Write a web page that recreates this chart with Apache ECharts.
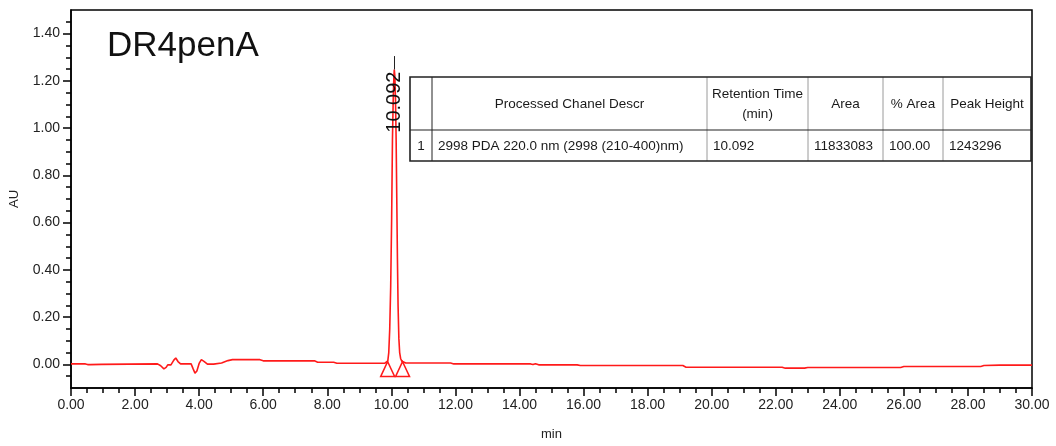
<!DOCTYPE html>
<html>
<head>
<meta charset="utf-8">
<title>DR4penA</title>
<script src="https://cdn.jsdelivr.net/npm/echarts@6/dist/echarts.min.js"></script>
<style>
  html, body { margin: 0; padding: 0; background: #fff; }
  #chart { width: 1056px; height: 446px; }
</style>
</head>
<body>
<div id="chart"></div>
<script>
// Chromatogram trace: [retention time (min), absorbance (AU)]
const trace = [
  [0.00, 0.002], [0.45, 0.002], [0.52, -0.001], [0.60, -0.001], [0.66, 0.000],
  [0.95, 0.000], [1.00, 0.002], [2.70, 0.002], [2.80, -0.006], [2.90, -0.019],
  [2.97, -0.013], [3.02, -0.002], [3.12, -0.002], [3.21, 0.018], [3.27, 0.027],
  [3.34, 0.012], [3.42, 0.002], [3.75, 0.002], [3.81, -0.018], [3.87, -0.037],
  [3.93, -0.028], [4.00, 0.004], [4.07, 0.020], [4.15, 0.013], [4.26, 0.001],
  [4.45, 0.001], [4.70, 0.006], [4.90, 0.016], [5.04, 0.020], [5.90, 0.020],
  [6.00, 0.015], [7.60, 0.015], [7.70, 0.009], [8.20, 0.009], [8.30, 0.005],
  [9.80, 0.005], [9.86, 0.007], [9.89, 0.015], [9.92, 0.05], [9.95, 0.15],
  [9.98, 0.33], [10.01, 0.62], [10.035, 0.95], [10.06, 1.13], [10.08, 1.22],
  [10.092, 1.248], [10.11, 1.22], [10.13, 1.12], [10.15, 0.95], [10.17, 0.70],
  [10.19, 0.45], [10.21, 0.25], [10.235, 0.11], [10.26, 0.05], [10.29, 0.025],
  [10.33, 0.013], [10.38, 0.008], [10.45, 0.006], [11.85, 0.006], [11.95, 0.002],
  [14.35, 0.002], [14.42, -0.001], [14.50, 0.003], [14.60, -0.002], [15.80, -0.002],
  [15.90, -0.005], [19.10, -0.005], [19.20, -0.012], [22.20, -0.012], [22.30, -0.016],
  [22.90, -0.016], [23.00, -0.013], [23.28, -0.013], [23.32, -0.010], [23.38, -0.013],
  [25.90, -0.013], [26.00, -0.009], [28.40, -0.009], [28.50, -0.005], [29.00, -0.003],
  [30.00, -0.003]
];

// Integrated peak
const peakTime = 10.092;
const peakApex = 1.248;
const peakStart = [9.885, 0.012];
const peakEnd = [10.35, 0.012];

// Axis ticks
const yTicks = [0.0, 0.2, 0.4, 0.6, 0.8, 1.0, 1.2, 1.4];
const yMinorTicks = [-0.05, 0.05, 0.1, 0.15, 0.25, 0.3, 0.35, 0.45, 0.5, 0.55, 0.65, 0.7, 0.75,
  0.85, 0.9, 0.95, 1.05, 1.1, 1.15, 1.25, 1.3, 1.35, 1.45];

// Peak results table
const tableHeader = ['', 'Processed Chanel Descr', 'Retention Time\n(min)', 'Area', '% Area', 'Peak Height'];
const tableRow = ['1', '2998 PDA 220.0 nm (2998 (210-400)nm)', '10.092', '11833083', '100.00', '1243296'];

const FONT = '"Liberation Sans", Arial, Helvetica, sans-serif';
const RED = '#ff1a1a';
const INK = '#1a1a1a';

// Table layout
const colX = [410, 432, 707, 808, 883, 943, 1031];
const rowY = [77, 130, 161];

function buildTable() {
  const els = [];
  // white backing
  els.push({ type: 'rect', shape: { x: colX[0], y: rowY[0], width: colX[6] - colX[0], height: rowY[2] - rowY[0] },
    style: { fill: '#fff' } });
  // inner column separators
  for (let i = 1; i < colX.length - 1; i++) {
    els.push({ type: 'line', shape: { x1: colX[i], y1: rowY[0], x2: colX[i], y2: rowY[2] },
      style: { stroke: i === 1 ? '#222' : '#9a9a9a', lineWidth: 1 } });
  }
  // header / body separator
  els.push({ type: 'line', shape: { x1: colX[0], y1: rowY[1], x2: colX[6], y2: rowY[1] },
    style: { stroke: '#222', lineWidth: 1.2 } });
  // outer frame
  els.push({ type: 'rect', shape: { x: colX[0], y: rowY[0], width: colX[6] - colX[0], height: rowY[2] - rowY[0] },
    style: { fill: null, stroke: '#222', lineWidth: 1.6 } });
  // header cells
  for (let i = 1; i < tableHeader.length; i++) {
    els.push({ type: 'text', style: {
      x: (colX[i] + colX[i + 1]) / 2, y: (rowY[0] + rowY[1]) / 2 + 1,
      text: tableHeader[i], align: 'center', verticalAlign: 'middle',
      font: '13.5px ' + FONT, fill: INK, lineHeight: 20 } });
  }
  // body cells
  for (let i = 0; i < tableRow.length; i++) {
    const centred = i === 0;
    els.push({ type: 'text', style: {
      x: centred ? (colX[0] + colX[1]) / 2 : colX[i] + 6, y: (rowY[1] + rowY[2]) / 2 + 1,
      text: tableRow[i], align: centred ? 'center' : 'left', verticalAlign: 'middle',
      font: '13.5px ' + FONT, fill: INK } });
  }
  return { type: 'group', z: 100, children: els };
}

const chart = echarts.init(document.getElementById('chart'), null, { renderer: 'canvas' });

const tickStyle = { color: '#000', width: 1.5 };

chart.setOption({
  animation: false,
  backgroundColor: '#fff',
  title: {
    text: 'DR4penA', left: 107, top: 29, padding: 0,
    textStyle: { fontFamily: FONT, fontSize: 35, fontWeight: 'normal', color: '#111' }
  },
  grid: { left: 70, right: 24, top: 10, bottom: 56, show: true, borderColor: '#000', borderWidth: 1.5 },
  xAxis: {
    type: 'value', min: 0, max: 30, interval: 2,
    axisLine: { show: true, onZero: false, lineStyle: { color: '#000', width: 1.5 } },
    axisTick: { show: true, length: 8, lineStyle: tickStyle },
    minorTick: { show: true, splitNumber: 4, length: 5, lineStyle: tickStyle },
    splitLine: { show: false },
    axisLabel: { formatter: v => v.toFixed(2), color: '#222', fontSize: 14, margin: 10, fontFamily: FONT },
    name: 'min', nameLocation: 'middle', nameGap: 40,
    nameTextStyle: { fontFamily: FONT, fontSize: 13, color: '#222' }
  },
  yAxis: [{
    type: 'value', min: -0.1, max: 1.5,
    axisLine: { show: true, onZero: false, lineStyle: { color: '#000', width: 1.5 } },
    axisTick: { show: true, length: 8, lineStyle: tickStyle, customValues: yTicks },
    splitLine: { show: false },
    axisLabel: { customValues: yTicks, formatter: v => v.toFixed(2), color: '#222', fontSize: 14, margin: 11, fontFamily: FONT },
    name: 'AU', nameLocation: 'middle', nameGap: 50,
    nameTextStyle: { fontFamily: FONT, fontSize: 13, color: '#222' }
  }, {
    type: 'value', min: -0.1, max: 1.5, position: 'left',
    axisLine: { show: false, onZero: false },
    axisTick: { show: true, length: 5, lineStyle: tickStyle, customValues: yMinorTicks },
    axisLabel: { show: false },
    splitLine: { show: false }
  }],
  graphic: [buildTable()],
  series: [{
    type: 'line',
    data: trace,
    showSymbol: false,
    symbol: 'none',
    sampling: null,
    lineStyle: { color: RED, width: 1.6 },
    silent: true,
    z: 3,
    markLine: {
      silent: true, symbol: ['none', 'none'],
      label: { show: false },
      lineStyle: { color: '#222', width: 1, type: 'solid' },
      data: [[{ coord: [peakTime, peakApex] }, { coord: [peakTime, 1.305] }]]
    },
    markPoint: {
      silent: true,
      data: [
        { coord: peakStart, symbol: 'triangle', symbolSize: [14, 15], symbolOffset: [0, 7.5],
          itemStyle: { color: 'rgba(0,0,0,0)', borderColor: RED, borderWidth: 1.5 }, label: { show: false } },
        { coord: peakEnd, symbol: 'triangle', symbolSize: [14, 15], symbolOffset: [0, 7.5],
          itemStyle: { color: 'rgba(0,0,0,0)', borderColor: RED, borderWidth: 1.5 }, label: { show: false } },
        { coord: [peakTime, 1.11], symbol: 'rect', symbolSize: 1,
          itemStyle: { color: 'rgba(0,0,0,0)' },
          label: { show: true, formatter: peakTime.toFixed(3), rotate: 90, position: 'inside',
            fontFamily: FONT, fontSize: 20, color: '#111' } }
      ]
    }
  }]
});
</script>
</body>
</html>
